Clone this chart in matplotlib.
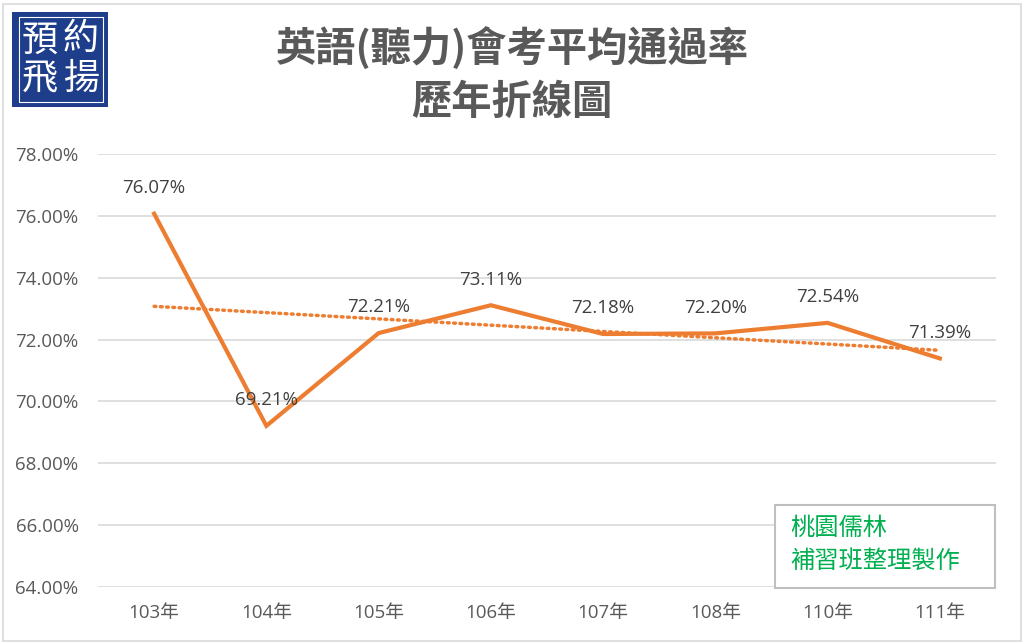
import numpy as np
import matplotlib.pyplot as plt
from matplotlib.patches import Rectangle

plt.rcParams['font.family'] = ['Open Sans', 'Noto Sans CJK TC', 'DejaVu Sans']

years = ['103年', '104年', '105年', '106年', '107年', '108年', '110年', '111年']
rates = [76.07, 69.21, 72.21, 73.11, 72.18, 72.20, 72.54, 71.39]
yticks = [64, 66, 68, 70, 72, 74, 76, 78]

orange = '#ED7D31'
gray_txt = '#595959'

fig = plt.figure(figsize=(10.24, 6.44), dpi=100)
ax = fig.add_axes([98/1024, 1 - 587/644, (996-98)/1024, (587-154)/644])

x = np.arange(len(years))
ax.plot(x, rates, color=orange, lw=3, solid_joinstyle='miter', zorder=3)

# linear trend line
k, b = np.polyfit(x, rates, 1)
ax.plot(x, k*x + b, color=orange, lw=2.5, ls=(0, (0.5, 1.3)), dash_capstyle='round', zorder=2)

for xi, v in zip(x, rates):
    ax.annotate(f'{v:.2f}%', (xi, v), xytext=(0, 12), textcoords='offset points',
                ha='center', va='bottom', fontsize=13.5, color='#404040', zorder=4)

ax.set_xlim(-0.5, len(years) - 0.5)
ax.set_ylim(64, 78)
ax.set_yticks(yticks)
ax.set_yticklabels([f'{t:.2f}%' for t in yticks])
ax.set_xticks(x)
ax.set_xticklabels(years)
ax.tick_params(length=0, labelsize=13.5, labelcolor=gray_txt)
ax.tick_params(axis='y', pad=14)
ax.tick_params(axis='x', pad=12)
ax.grid(axis='y', color='#D9D9D9', lw=1.2)
ax.set_axisbelow(True)
for s in ax.spines.values():
    s.set_visible(False)

# title
fig.text(0.5, 1 - 49/644, '英語(聽力)會考平均通過率', ha='center', va='center',
         fontsize=29, fontweight='heavy', color=gray_txt, family=['Noto Sans CJK TC'])
fig.text(0.5, 1 - 102/644, '歷年折線圖', ha='center', va='center',
         fontsize=29, fontweight='heavy', color=gray_txt, family=['Noto Sans CJK TC'])

# logo
fig.patches.append(Rectangle((12/1024, 1 - 107/644), 96/1024, 95/644,
                             transform=fig.transFigure, facecolor='#1E3E8C', edgecolor='none'))
fig.patches.append(Rectangle((19/1024, 1 - 102/644), 84/1024, 85/644, transform=fig.transFigure,
                             facecolor='none', edgecolor='white', lw=0.8))
for (tx, ty, ch) in [(40, 41, '預'), (81, 39, '約'), (40, 79, '飛'), (81, 79, '揚')]:
    fig.text(tx/1024, 1 - ty/644, ch, ha='center', va='center', fontsize=26,
             color='white', family=['Noto Sans CJK TC'])

# green note box
fig.patches.append(Rectangle((775/1024, 1 - 588/644), 220/1024, 83/644,
                             transform=fig.transFigure, facecolor='white', edgecolor='#BFBFBF', lw=1.5))
fig.text(790/1024, 1 - 528/644, '桃園儒林', ha='left', va='center', fontsize=17.5,
         color='#00B050', family=['Noto Sans CJK TC'])
fig.text(790/1024, 1 - 561/644, '補習班整理製作', ha='left', va='center', fontsize=17.5,
         color='#00B050', family=['Noto Sans CJK TC'])

# outer border
fig.patches.append(Rectangle((3/1024, 3/644), 1018/1024, 637/644, transform=fig.transFigure,
                             facecolor='none', edgecolor='#D9D9D9', lw=1.2))

fig.savefig('out.png', dpi=100)
